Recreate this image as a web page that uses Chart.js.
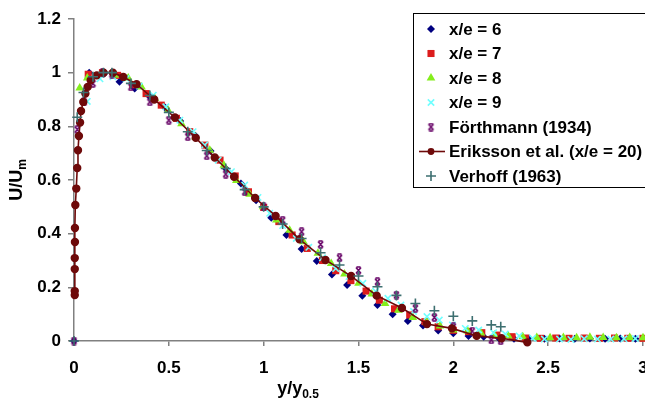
<!DOCTYPE html>
<html>
<head>
<meta charset="utf-8">
<script src="https://cdn.jsdelivr.net/npm/chart.js@4.4.1/dist/chart.umd.min.js"></script>
<style>
  html, body { margin: 0; padding: 0; background: #fff; overflow: hidden; }
  #wrap { width: 660px; height: 401px; }
</style>
</head>
<body>
<div id="wrap"><canvas id="myChart" width="660" height="401"></canvas></div>
<script>
// x/e = 6
const xe6X = [0, 0.08, 0.16, 0.24, 0.32, 0.40, 0.48, 0.56, 0.64, 0.72, 0.80, 0.88, 0.96, 1.04, 1.12, 1.20, 1.28, 1.36, 1.44, 1.52, 1.60, 1.68, 1.76, 1.84, 1.92, 2.00, 2.08, 2.16, 2.24, 2.32, 2.40, 2.48, 2.56, 2.64, 2.72, 2.80, 2.88, 2.96];
const xe6Y = [0, 1.0, 0.997, 0.966, 0.941, 0.91, 0.87, 0.82, 0.765, 0.708, 0.643, 0.587, 0.525, 0.459, 0.395, 0.343, 0.298, 0.248, 0.209, 0.169, 0.134, 0.100, 0.075, 0.058, 0.039, 0.029, 0.019, 0.016, 0.010, 0.008, 0.009, 0.008, 0.009, 0.008, 0.009, 0.008, 0.009, 0.008];
// x/e = 7
const xe7X = [0.075, 0.15, 0.23, 0.31, 0.38, 0.46, 0.54, 0.61, 0.69, 0.77, 0.85, 0.92, 1.00, 1.08, 1.15, 1.23, 1.31, 1.38, 1.46, 1.54, 1.61, 1.69, 1.77, 1.85, 1.92, 2.00, 2.08, 2.15, 2.23, 2.31, 2.38, 2.46, 2.54, 2.61, 2.69, 2.77, 2.85, 2.92, 3.00];
const xe7Y = [0.994, 1.0, 0.99, 0.955, 0.922, 0.879, 0.83, 0.78, 0.73, 0.674, 0.615, 0.556, 0.498, 0.445, 0.395, 0.345, 0.30, 0.262, 0.225, 0.186, 0.152, 0.12, 0.097, 0.072, 0.053, 0.04, 0.035, 0.031, 0.022, 0.016, 0.011, 0.01, 0.011, 0.01, 0.011, 0.01, 0.011, 0.01, 0.01];
// x/e = 8
const xe8X = [0.03, 0.07, 0.144, 0.215, 0.286, 0.356, 0.426, 0.496, 0.567, 0.64, 0.716, 0.79, 0.856, 0.926, 0.997, 1.067, 1.137, 1.21, 1.286, 1.356, 1.426, 1.50, 1.57, 1.64, 1.71, 1.786, 1.86, 1.93, 2.00, 2.076, 2.146, 2.216, 2.29, 2.366, 2.44, 2.51, 2.58, 2.65, 2.72, 2.79, 2.86, 2.93, 3.0];
const xe8Y = [0.943, 0.98, 0.997, 0.99, 0.98, 0.947, 0.904, 0.86, 0.81, 0.76, 0.711, 0.655, 0.598, 0.547, 0.5, 0.451, 0.413, 0.37, 0.327, 0.289, 0.25, 0.215, 0.175, 0.14, 0.115, 0.088, 0.07, 0.056, 0.041, 0.037, 0.029, 0.022, 0.019, 0.016, 0.013, 0.012, 0.013, 0.012, 0.014, 0.013, 0.012, 0.013, 0.012];
// x/e = 9
const xe9X = [0.07, 0.137, 0.205, 0.275, 0.345, 0.418, 0.484, 0.558, 0.628, 0.689, 0.76, 0.83, 0.90, 0.97, 1.032, 1.10, 1.172, 1.238, 1.31, 1.38, 1.45, 1.523, 1.59, 1.655, 1.724, 1.79, 1.861, 1.926, 1.995, 2.063, 2.134, 2.212, 2.274, 2.347, 2.418, 2.48, 2.56, 2.62, 2.69, 2.76, 2.83, 2.90, 2.96];
const xe9Y = [0.893, 0.977, 0.985, 0.978, 0.95, 0.916, 0.873, 0.823, 0.78, 0.73, 0.674, 0.631, 0.581, 0.535, 0.476, 0.43, 0.382, 0.349, 0.31, 0.27, 0.24, 0.215, 0.185, 0.159, 0.134, 0.11, 0.091, 0.078, 0.06, 0.047, 0.041, 0.031, 0.026, 0.019, 0.01, 0.007, 0.007, 0.006, 0.008, 0.007, 0.007, 0.008, 0.009];
// Förthmann (1934)
const forthX = [0, 0.017, 0.053, 0.10, 0.15, 0.20, 0.30, 0.40, 0.50, 0.60, 0.70, 0.80, 0.90, 1.00, 1.10, 1.20, 1.30, 1.40, 1.50, 1.60, 1.70, 1.80, 1.90, 2.00, 2.10, 2.20, 2.25];
const forthY = [0, 0.788, 0.891, 0.96, 1.0, 0.995, 0.947, 0.891, 0.823, 0.761, 0.69, 0.622, 0.556, 0.5, 0.45, 0.407, 0.36, 0.31, 0.263, 0.221, 0.171, 0.122, 0.088, 0.053, 0.037, 0.004, 0.001];
// Eriksson et al. (x/e = 20)
const erikX = [0.004, 0.004, 0.004, 0.004, 0.005, 0.005, 0.007, 0.012, 0.017, 0.021, 0.026, 0.032, 0.037, 0.049, 0.06, 0.072, 0.088, 0.12, 0.156, 0.205, 0.26, 0.33, 0.423, 0.532, 0.642, 0.742, 0.844, 0.955, 1.063, 1.189, 1.326, 1.461, 1.596, 1.729, 1.861, 1.993, 2.123, 2.254, 2.39];
const erikY = [0.171, 0.186, 0.268, 0.309, 0.369, 0.421, 0.507, 0.568, 0.645, 0.711, 0.764, 0.814, 0.857, 0.891, 0.922, 0.947, 0.972, 0.99, 1.0, 1.0, 0.984, 0.957, 0.9, 0.833, 0.757, 0.684, 0.612, 0.533, 0.466, 0.379, 0.302, 0.242, 0.169, 0.123, 0.063, 0.047, 0.019, 0.010, -0.005];
// Verhoff (1963)
const verhX = [0, 0.017, 0.05, 0.10, 0.155, 0.20, 0.30, 0.40, 0.50, 0.60, 0.70, 0.80, 0.90, 1.00, 1.10, 1.20, 1.30, 1.40, 1.50, 1.60, 1.70, 1.80, 1.90, 2.00, 2.10, 2.20, 2.25];
const verhY = [0, 0.834, 0.926, 0.985, 1.0, 1.0, 0.96, 0.915, 0.852, 0.78, 0.71, 0.643, 0.564, 0.5, 0.436, 0.382, 0.329, 0.283, 0.242, 0.202, 0.17, 0.14, 0.113, 0.092, 0.075, 0.06, 0.053];

const seriesLabels = ['x/e = 6', 'x/e = 7', 'x/e = 8', 'x/e = 9', 'Förthmann (1934)', 'Eriksson et al. (x/e = 20)', 'Verhoff (1963)'];
const xTicks = [0, 0.5, 1, 1.5, 2, 2.5, 3];
const yTicks = [0, 0.2, 0.4, 0.6, 0.8, 1, 1.2];

function pairs(xs, ys) {
  return xs.map((x, i) => ({ x: x, y: ys[i] }));
}

// Excel style star marker: an x with small bars on top and bottom
function makeStar(color) {
  const c = document.createElement('canvas');
  c.width = 9; c.height = 9;
  const g = c.getContext('2d');
  g.strokeStyle = color;
  g.lineWidth = 1.7;
  g.beginPath();
  g.moveTo(2, 1.5); g.lineTo(7, 7.5);
  g.moveTo(7, 1.5); g.lineTo(2, 7.5);
  g.moveTo(2.5, 1); g.lineTo(6.5, 1);
  g.moveTo(2.5, 8); g.lineTo(6.5, 8);
  g.stroke();
  return c;
}

const starImg = makeStar('#660066');

const datasets = [
  { label: seriesLabels[0], data: pairs(xe6X, xe6Y), pointStyle: 'rectRot', pointRadius: 4,
    backgroundColor: '#000080', borderColor: '#000080', borderWidth: 0, order: 7 },
  { label: seriesLabels[1], data: pairs(xe7X, xe7Y), pointStyle: 'rect', pointRadius: 5,
    backgroundColor: '#dc1c1c', borderColor: '#dc1c1c', borderWidth: 0, order: 6 },
  { label: seriesLabels[2], data: pairs(xe8X, xe8Y), pointStyle: 'triangle', pointRadius: 5,
    backgroundColor: '#84ee1c', borderColor: '#84ee1c', borderWidth: 0, order: 5 },
  { label: seriesLabels[3], data: pairs(xe9X, xe9Y), pointStyle: 'crossRot', pointRadius: 4.5,
    backgroundColor: '#70ffff', borderColor: '#70ffff', borderWidth: 1.6, order: 4 },
  { label: seriesLabels[4], data: pairs(forthX, forthY), pointStyle: starImg, pointRadius: 5,
    backgroundColor: '#660066', borderColor: '#660066', borderWidth: 0, order: 3 },
  { label: seriesLabels[5], data: pairs(erikX, erikY), pointStyle: 'circle', pointRadius: 3.4,
    backgroundColor: '#6e0a0a', borderColor: '#6e0a0a', borderWidth: 1.6, showLine: true, order: 2 },
  { label: seriesLabels[6], data: pairs(verhX, verhY), pointStyle: 'cross', pointRadius: 5,
    backgroundColor: '#3d6f70', borderColor: '#3d6f70', borderWidth: 1.6, order: 1 }
];

const FONT = '"Liberation Sans", Arial, sans-serif';

// draws text with a subscript, centred on x
function drawSub(ctx, main, sub, x, y, size, subSize) {
  ctx.font = 'bold ' + size + 'px ' + FONT;
  const w1 = ctx.measureText(main).width;
  ctx.font = 'bold ' + subSize + 'px ' + FONT;
  const w2 = ctx.measureText(sub).width;
  let start = x - (w1 + w2) / 2;
  ctx.textAlign = 'left';
  ctx.textBaseline = 'alphabetic';
  ctx.font = 'bold ' + size + 'px ' + FONT;
  ctx.fillText(main, start, y);
  ctx.font = 'bold ' + subSize + 'px ' + FONT;
  ctx.fillText(sub, start + w1, y + 4);
}

const extras = {
  id: 'extras',
  afterDraw(chart) {
    const ctx = chart.ctx;
    ctx.save();
    ctx.fillStyle = '#000';
    // axis titles
    drawSub(ctx, 'y/y', '0.5', 298, 394, 18, 12);
    ctx.save();
    ctx.translate(22, 180);
    ctx.rotate(-Math.PI / 2);
    drawSub(ctx, 'U/U', 'm', 0, 0, 18, 12);
    ctx.restore();

    // legend box
    ctx.fillStyle = '#fff';
    ctx.fillRect(413.5, 13.5, 250, 174);
    ctx.strokeStyle = '#000';
    ctx.lineWidth = 1;
    ctx.strokeRect(413.5, 13.5, 250, 174);
    chart.data.datasets.forEach((ds, i) => {
      const cy = 29 + i * 24.5;
      const mx = 431;
      if (ds.showLine) {
        ctx.strokeStyle = ds.borderColor;
        ctx.lineWidth = 1.6;
        ctx.beginPath();
        ctx.moveTo(419, cy);
        ctx.lineTo(445, cy);
        ctx.stroke();
      }
      ctx.fillStyle = ds.backgroundColor;
      ctx.strokeStyle = ds.borderColor;
      ctx.lineWidth = ds.borderWidth || 1;
      Chart.helpers.drawPoint(ctx, {
        pointStyle: ds.pointStyle, radius: ds.pointRadius, rotation: 0,
        borderWidth: ds.showLine ? 0 : ds.borderWidth
      }, mx, cy);
      ctx.fillStyle = '#000';
      ctx.font = 'bold 17px ' + FONT;
      ctx.textAlign = 'left';
      ctx.textBaseline = 'middle';
      ctx.fillText(ds.label, 449, cy + 1);
    });
    ctx.restore();
  }
};

const ctx = document.getElementById('myChart').getContext('2d');
const myChart = new Chart(ctx, {
  type: 'scatter',
  data: { datasets: datasets },
  options: {
    responsive: false,
    animation: false,
    clip: false,
    layout: { padding: { top: 19, right: 17, left: 0, bottom: 0 } },
    plugins: { legend: { display: false }, tooltip: { enabled: false } },
    elements: { line: { tension: 0 } },
    scales: {
      x: {
        type: 'linear', min: 0, max: 3,
        afterFit: (s) => { s.height = 60; },
        afterBuildTicks: (s) => { s.ticks = xTicks.map(v => ({ value: v })); },
        ticks: { color: '#000', font: { family: FONT, size: 17, weight: 'bold' }, padding: 12, maxRotation: 0,
          callback: (v) => String(v) },
        grid: { drawOnChartArea: false, tickLength: 5, color: '#808080', lineWidth: 1.5 },
        border: { color: '#808080', width: 1.5 }
      },
      y: {
        min: 0, max: 1.2,
        afterFit: (s) => { s.width = 74; },
        afterBuildTicks: (s) => { s.ticks = yTicks.map(v => ({ value: v })); },
        ticks: { color: '#000', font: { family: FONT, size: 17, weight: 'bold' }, padding: 7,
          callback: (v) => String(v) },
        grid: { drawOnChartArea: false, tickLength: 6, color: '#808080', lineWidth: 1.5 },
        border: { color: '#808080', width: 1.5 }
      }
    }
  },
  plugins: [extras]
});
</script>
</body>
</html>
